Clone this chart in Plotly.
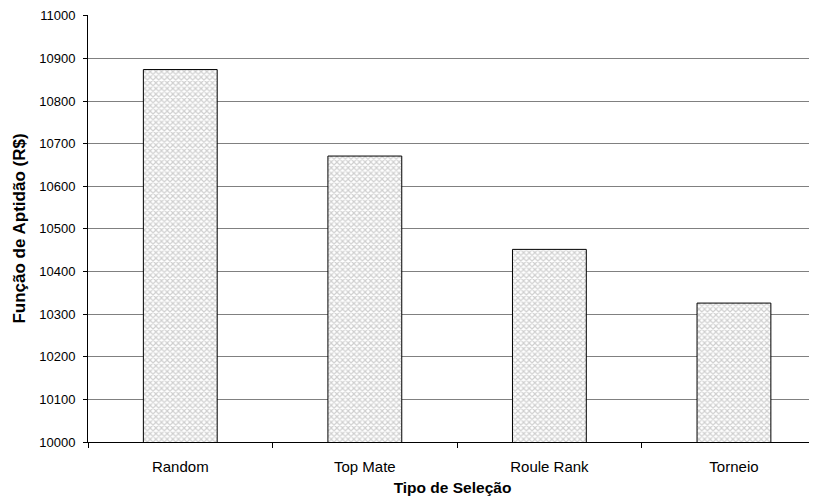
import plotly.graph_objects as go

categories = ["Random", "Top Mate", "Roule Rank", "Torneio"]
values = [10874, 10671, 10452, 10326]
y_ticks = list(range(10000, 11001, 100))

fig = go.Figure()
fig.add_trace(go.Bar(
    x=categories, y=values, width=0.4,
    marker=dict(color="white",
                line=dict(color="black", width=1),
                pattern=dict(shape="x", size=4, solidity=0.5,
                             fgcolor="#a0a0a0", bgcolor="white")),
))

fig.update_layout(
    width=809, height=491,
    margin=dict(l=80, r=0, t=4, b=57, pad=0),
    paper_bgcolor="white", plot_bgcolor="white",
    font=dict(family="Liberation Sans, Arial", size=13, color="black"),
    showlegend=False,
    bargap=0.6,
)
fig.update_xaxes(
    range=[-0.5, 3.45], showline=True, linecolor="black", linewidth=1,
    ticks="outside", tickson="boundaries", ticklen=5, tickcolor="black",
    tickfont=dict(size=15), ticklabelstandoff=11,
    showgrid=False,
    title=dict(text="<b>Tipo de Seleção</b>", font=dict(size=15.5), standoff=8),
)
fig.update_yaxes(
    range=[10000, 11002], tickvals=y_ticks, ticktext=[str(v) for v in y_ticks],
    showline=True, linecolor="black", linewidth=1,
    ticks="outside", ticklen=4, tickcolor="black",
    tickfont=dict(size=13), ticklabelstandoff=5, ticklabeloverflow="allow",
    showgrid=True, gridcolor="#808080", gridwidth=1,
    zeroline=False,
    title=dict(text="<b>Função de Aptidão (R$)</b>", font=dict(size=17), standoff=9),
)

fig.write_html("out.html")
